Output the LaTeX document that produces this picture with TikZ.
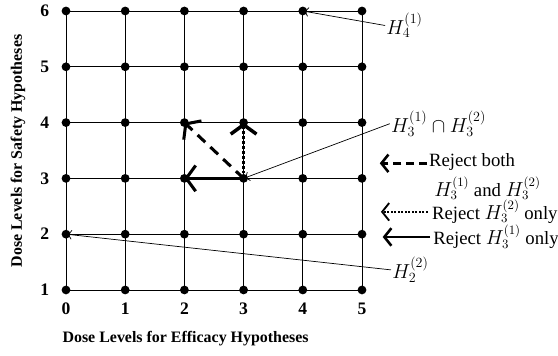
\documentclass[tikz,border=0pt]{standalone}
\usepackage{fontspec}
\setmainfont{Liberation Serif}
\usetikzlibrary{arrows.meta}

\tikzset{
    gdot/.style={circle, fill=black, inner sep=0pt, minimum size=7.5pt},
    ticklab/.style={font=\bfseries\fontsize{15}{17}\selectfont},
    axislab/.style={font=\bfseries\fontsize{13.6}{16}\selectfont},
    hlab/.style={anchor=west, inner sep=1pt, font=\fontsize{16.5}{19}\selectfont},
    legtext/.style={anchor=west, inner sep=1pt, font=\fontsize{16}{19}\selectfont},
    pointer/.style={line width=0.6pt, -{To[length=5pt, width=8pt]}},
    reject/.style={line width=2.6pt, -{Straight Barb[length=8pt, width=22pt]}},
    legarrow/.style={line width=2.2pt, -{Straight Barb[length=6pt, width=15pt]}}
}

\begin{document}
\begin{tikzpicture}[x=1.776cm, y=1.674cm]
    \useasboundingbox (-1.115,-0.183) rectangle (8.311,6.197);

    % grid of dose combinations
    \foreach \i in {0,...,5}
        \draw[line width=0.7pt] (\i,1) -- (\i,6);
    \foreach \j in {1,...,6}
        \draw[line width=0.7pt] (0,\j) -- (5,\j);
    \foreach \i in {0,...,5}
        \foreach \j in {1,...,6}
            \node[gdot] (g-\i-\j) at (\i,\j) {};

    % tick labels
    \foreach \i in {0,...,5}
        \node[ticklab] (xt-\i) at (\i,0.67) {\i};
    \foreach \j in {1,...,6}
        \node[ticklab] (yt-\j) at (-0.36,\j) {\j};

    % axis titles
    \node[axislab] (xlab) at (2.02,0.12) {Dose Levels for Efficacy Hypotheses};
    \node[axislab, rotate=90] (ylab) at (-0.81,3.49) {Dose Levels for Safety Hypotheses};

    % rejection moves from (3,3)
    \draw[reject] (g-3-3.center) -- (g-2-3.center);
    \draw[reject, dash pattern=on 9pt off 6pt] (g-3-3.center) -- (g-2-4.center);
    \draw[reject, line width=3pt, dash pattern=on 2.4pt off 1.8pt] (g-3-3.center) -- (g-3-4.center);

    % hypothesis labels
    \node[hlab] (h41) at (5.39,5.74) {$H_4^{(1)}$};
    \node[hlab] (h33) at (5.47,3.98) {$H_3^{(1)}\cap H_3^{(2)}$};
    \node[hlab] (h22) at (5.49,1.36) {$H_2^{(2)}$};
    \draw[pointer] (h41.west) -- (g-4-6.center);
    \draw[pointer] (h33.west) -- (g-3-3.center);
    \draw[pointer] (h22.west) -- (g-0-2.center);

    % legend
    \coordinate (l1a) at (6.10,3.27);
    \coordinate (l1b) at (5.30,3.27);
    \coordinate (l2a) at (6.11,2.40);
    \coordinate (l2b) at (5.32,2.40);
    \coordinate (l3a) at (6.15,1.95);
    \coordinate (l3b) at (5.35,1.95);
    \draw[legarrow, dash pattern=on 7pt off 4pt] (l1a) -- (l1b);
    \draw[legarrow, dash pattern=on 1.5pt off 1.5pt, line width=1.6pt] (l2a) -- (l2b);
    \draw[legarrow] (l3a) -- (l3b);
    \node[legtext] (leg1) at (6.11,3.30) {Reject both};
    \node[font=\fontsize{16}{19}\selectfont] (leg1b) at (7.12,2.82) {$H_3^{(1)}$ and $H_3^{(2)}$};
    \node[legtext] (leg2) at (6.16,2.40) {Reject $H_3^{(2)}$ only};
    \node[legtext] (leg3) at (6.18,1.95) {Reject $H_3^{(1)}$ only};
\end{tikzpicture}
\end{document}
